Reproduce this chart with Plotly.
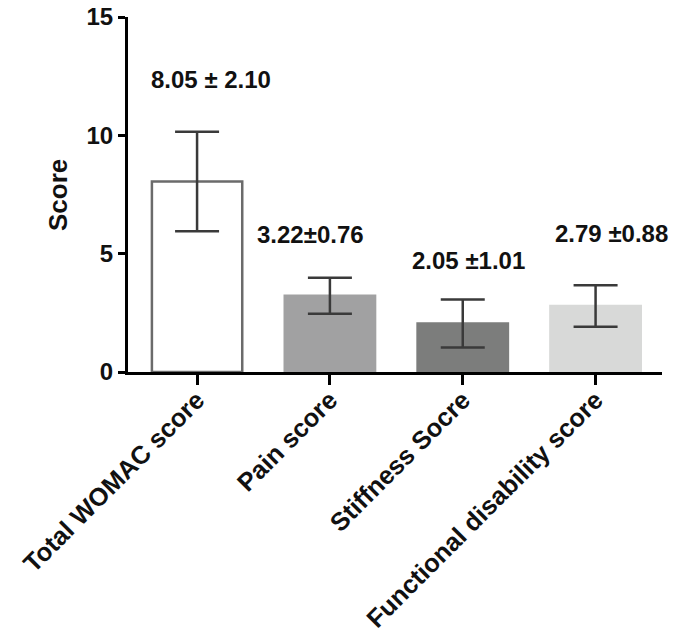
import plotly.graph_objects as go

categories = ["Total WOMAC score", "Pain score", "Stiffness Socre", "Functional disability score"]
means = [8.05, 3.22, 2.05, 2.79]
sds = [2.10, 0.76, 1.01, 0.88]
labels = ["8.05 ± 2.10", "3.22±0.76", "2.05 ±1.01", "2.79 ±0.88"]
y_ticks = [0, 5, 10, 15]
y_title = "Score"

fill_colors = ["#ffffff", "#a1a1a2", "#7c7d7c", "#d8d9d8"]
edge_colors = ["#6b6b6b", "#a1a1a2", "#7c7d7c", "#d8d9d8"]

# label placement offsets (layout only)
label_dx = [0.105, -0.143, 0.045, 0.12]
label_dy = [2.19, 1.81, 1.67, 2.20]

FONT = "Arial, 'Liberation Sans', sans-serif"
INK = "#111111"

L, R, T, B = 128, 19, 17, 263
W, H = 681, 635
PW = W - L - R
PH = H - T - B

fig = go.Figure()
fig.add_trace(go.Bar(
    x=categories,
    y=means,
    width=0.68,
    marker=dict(color=fill_colors, line=dict(color=edge_colors, width=2.5)),
    error_y=dict(type="data", array=sds, visible=True, color="#3a3a3a",
                 thickness=2.5, width=22),
    showlegend=False,
))

for i, (m, s, t) in enumerate(zip(means, sds, labels)):
    fig.add_annotation(
        x=i + label_dx[i], y=m + s + label_dy[i], xref="x", yref="y",
        text=t, showarrow=False, xanchor="center", yanchor="middle",
        font=dict(family=FONT, size=24, color=INK, weight="bold"),
    )

fig.add_annotation(
    x=(58 - L) / PW, y=(T + PH - 195) / PH, xref="paper", yref="paper",
    text=y_title, textangle=-90, showarrow=False,
    xanchor="center", yanchor="middle",
    font=dict(family=FONT, size=26, color=INK, weight="bold"),
)

fig.update_layout(
    template="none",
    width=W, height=H,
    margin=dict(l=L, r=R, t=T, b=B, pad=0),
    plot_bgcolor="white", paper_bgcolor="white",
    font=dict(family=FONT, color=INK),
    showlegend=False,
)
fig.update_xaxes(
    type="category", range=[-0.52, 3.5], automargin=False,
    showline=True, linecolor="#000000", linewidth=3,
    ticks="outside", ticklen=10, tickwidth=3, tickcolor="#000000",
    tickangle=-45, ticklabelstandoff=-10, ticklabeloverflow="allow",
    tickfont=dict(family=FONT, size=25.5, color=INK, weight="bold"),
    showgrid=False, zeroline=False,
)
fig.update_yaxes(
    range=[0, 15], tickvals=y_ticks, ticktext=[str(v) for v in y_ticks],
    automargin=False, ticklabeloverflow="allow",
    showline=True, linecolor="#000000", linewidth=3,
    ticks="outside", ticklen=7, tickwidth=3, tickcolor="#000000",
    tickfont=dict(family=FONT, size=24, color=INK, weight="bold"),
    showgrid=False, zeroline=False,
)

fig.write_html("out.html", config={"displayModeBar": False},
               post_script="document.body.style.margin='0px';")
